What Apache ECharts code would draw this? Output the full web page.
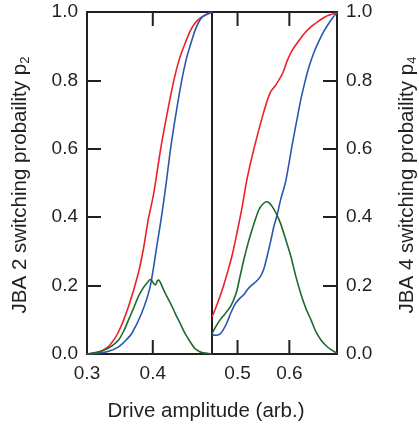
<!DOCTYPE html>
<html>
<head>
<meta charset="utf-8">
<script src="https://cdn.jsdelivr.net/npm/echarts@6/dist/echarts.min.js"></script>
<style>
html,body{margin:0;padding:0;background:#fff;}
#chart{width:419px;height:427px;}
</style>
</head>
<body>
<div id="chart"></div>
<script>
// ---- Data ----
// JBA 2 panel: [drive amplitude, probability]
const jba2Red = [[0.300,0.000],[0.315,0.005],[0.325,0.012],[0.335,0.026],[0.348,0.065],[0.363,0.138],[0.378,0.236],[0.386,0.310],[0.393,0.392],[0.401,0.465],[0.412,0.600],[0.422,0.705],[0.432,0.800],[0.440,0.860],[0.449,0.908],[0.457,0.945],[0.464,0.967],[0.472,0.982],[0.480,0.991],[0.490,1.000]];
const jba2Blue = [[0.300,0.000],[0.317,0.002],[0.333,0.008],[0.348,0.021],[0.358,0.038],[0.368,0.060],[0.383,0.119],[0.396,0.197],[0.406,0.314],[0.414,0.411],[0.421,0.509],[0.427,0.600],[0.435,0.700],[0.444,0.800],[0.450,0.855],[0.455,0.890],[0.465,0.950],[0.475,0.985],[0.490,1.000]];
const jba2Green = [[0.300,0.000],[0.315,0.004],[0.327,0.012],[0.338,0.024],[0.348,0.041],[0.356,0.068],[0.363,0.099],[0.371,0.135],[0.378,0.168],[0.385,0.192],[0.391,0.207],[0.396,0.218],[0.398,0.216],[0.401,0.207],[0.404,0.202],[0.407,0.214],[0.409,0.216],[0.413,0.203],[0.419,0.177],[0.427,0.148],[0.434,0.119],[0.442,0.088],[0.449,0.060],[0.457,0.035],[0.464,0.016],[0.470,0.008],[0.475,0.004],[0.490,0.000]];
// JBA 4 panel
const jba4Red = [[0.451,0.109],[0.458,0.135],[0.466,0.168],[0.474,0.205],[0.482,0.246],[0.489,0.285],[0.496,0.333],[0.503,0.385],[0.509,0.431],[0.518,0.509],[0.531,0.596],[0.548,0.694],[0.556,0.735],[0.564,0.767],[0.574,0.787],[0.587,0.821],[0.596,0.858],[0.606,0.889],[0.618,0.915],[0.629,0.937],[0.642,0.957],[0.655,0.972],[0.667,0.984],[0.677,0.991],[0.692,0.998]];
const jba4Blue = [[0.451,0.056],[0.458,0.055],[0.466,0.058],[0.472,0.070],[0.479,0.090],[0.487,0.120],[0.496,0.148],[0.504,0.162],[0.512,0.173],[0.520,0.190],[0.528,0.202],[0.536,0.212],[0.544,0.226],[0.551,0.250],[0.557,0.285],[0.564,0.330],[0.570,0.372],[0.577,0.410],[0.583,0.450],[0.593,0.505],[0.606,0.616],[0.614,0.680],[0.622,0.743],[0.630,0.795],[0.638,0.840],[0.648,0.884],[0.658,0.918],[0.666,0.942],[0.674,0.962],[0.683,0.982],[0.692,0.998]];
const jba4Green = [[0.451,0.060],[0.458,0.080],[0.466,0.099],[0.476,0.118],[0.486,0.138],[0.493,0.160],[0.499,0.187],[0.505,0.228],[0.512,0.275],[0.520,0.322],[0.528,0.363],[0.535,0.396],[0.541,0.421],[0.548,0.437],[0.556,0.445],[0.561,0.442],[0.567,0.431],[0.575,0.410],[0.583,0.382],[0.593,0.335],[0.603,0.285],[0.612,0.230],[0.622,0.177],[0.632,0.133],[0.642,0.099],[0.651,0.066],[0.661,0.041],[0.671,0.024],[0.681,0.012],[0.692,0.002]];

// Axis ranges and ticks
const xRange2 = [0.3, 0.49];
const xRange4 = [0.4507, 0.692];
const xLabels2 = [0.3, 0.4];
const xTicks2 = [0.4];
const xLabels4 = [0.5, 0.6];
const xTicks4 = [0.5, 0.6];
const yRange = [0, 1];

const INK = '#231f20';
const RED = '#ee2027';
const BLUE = '#2b56ad';
const GREEN = '#1d6a2e';
const FONT = 'Liberation Sans, Arial, sans-serif';
const TICK_LEN = 14;

const lineAxis = {show: true, onZero: false, lineStyle: {color: INK, width: 2}};
const fmt = v => Number(v).toFixed(1);

function xAxis(grid, pos, range, labels) {
  return {
    type: 'value', gridIndex: grid, position: pos, min: range[0], max: range[1],
    axisLine: lineAxis,
    axisTick: {show: false},
    axisLabel: labels
      ? {show: true, customValues: labels, formatter: fmt, fontSize: 19, color: INK, fontFamily: FONT, margin: 10}
      : {show: false},
    splitLine: {show: false}
  };
}
function yAxis(grid, pos, ticks, labels) {
  return {
    type: 'value', gridIndex: grid, position: pos, min: yRange[0], max: yRange[1], interval: 0.2,
    axisLine: lineAxis,
    axisTick: {show: ticks, inside: true, length: TICK_LEN, lineStyle: {color: INK, width: 2}},
    axisLabel: labels ? {show: true, formatter: fmt, fontSize: 19, color: INK, fontFamily: FONT, margin: 9} : {show: false},
    splitLine: {show: false}
  };
}
function line(xi, yi, data, color) {
  return {type: 'line', xAxisIndex: xi, yAxisIndex: yi, data: data, showSymbol: false, smooth: 0.25,
    lineStyle: {color: color, width: 1.6}, animation: false};
}

const titleRich = {
  m: {fontSize: 20.5, lineHeight: 24, fontFamily: FONT, fill: INK},
  s: {fontSize: 13, lineHeight: 13, verticalAlign: 'bottom', fontFamily: FONT, fill: INK}
};

const baseGraphic = [
  {id: 'xtitle', type: 'text', x: 206, y: 411, style: {text: 'Drive amplitude (arb.)', fontSize: 20.5, fontFamily: FONT, fill: INK, align: 'center', verticalAlign: 'middle'}},
  {id: 'ytitle2', type: 'text', x: 20, y: 185, rotation: Math.PI / 2, style: {
    text: '{m|JBA 2 switching probaility p}{s|2}', fontFamily: FONT, fill: INK, align: 'center', verticalAlign: 'middle', rich: titleRich}},
  {id: 'ytitle4', type: 'text', x: 407, y: 185, rotation: Math.PI / 2, style: {
    text: '{m|JBA 4 switching probaility p}{s|4}', fontFamily: FONT, fill: INK, align: 'center', verticalAlign: 'middle', rich: titleRich}}
];

const chart = echarts.init(document.getElementById('chart'), null, {renderer: 'canvas'});
chart.setOption({
  animation: false,
  backgroundColor: '#fff',
  grid: [
    {left: 87, top: 12, width: 125, height: 342, show: false},
    {left: 212, top: 12, width: 125, height: 342, show: false}
  ],
  xAxis: [
    xAxis(0, 'bottom', xRange2, xLabels2),
    xAxis(0, 'top', xRange2, null),
    xAxis(1, 'bottom', xRange4, xLabels4),
    xAxis(1, 'top', xRange4, null)
  ],
  yAxis: [
    yAxis(0, 'left', true, true),
    yAxis(0, 'right', false, false),
    yAxis(1, 'left', false, false),
    yAxis(1, 'right', true, true)
  ],
  series: [
    line(0, 0, jba2Red, RED),
    line(0, 0, jba2Blue, BLUE),
    line(0, 0, jba2Green, GREEN),
    line(2, 3, jba4Red, RED),
    line(2, 3, jba4Blue, BLUE),
    line(2, 3, jba4Green, GREEN)
  ],
  graphic: baseGraphic
});

// Inward x-axis ticks on bottom and top edges, positioned through the axis scales.
function addTicks() {
  const els = baseGraphic.slice();
  [[{xAxisIndex: 0, yAxisIndex: 0}, xTicks2], [{xAxisIndex: 2, yAxisIndex: 3}, xTicks4]].forEach(([finder, ticks], gi) => {
    ticks.forEach((v, ti) => {
      const pb = chart.convertToPixel(finder, [v, yRange[0]]);
      const pt = chart.convertToPixel(finder, [v, yRange[1]]);
      if (!pb || !pt) return;
      els.push({id: 'tb' + gi + '_' + ti, type: 'rect', z: 100, silent: true,
        shape: {x: pb[0] - 1, y: pb[1] - TICK_LEN, width: 2, height: TICK_LEN}, style: {fill: INK}});
      els.push({id: 'tt' + gi + '_' + ti, type: 'rect', z: 100, silent: true,
        shape: {x: pt[0] - 1, y: pt[1], width: 2, height: TICK_LEN}, style: {fill: INK}});
    });
  });
  chart.setOption({graphic: els});
}
try { addTicks(); } catch (e) { console.error(e); }
</script>
</body>
</html>
